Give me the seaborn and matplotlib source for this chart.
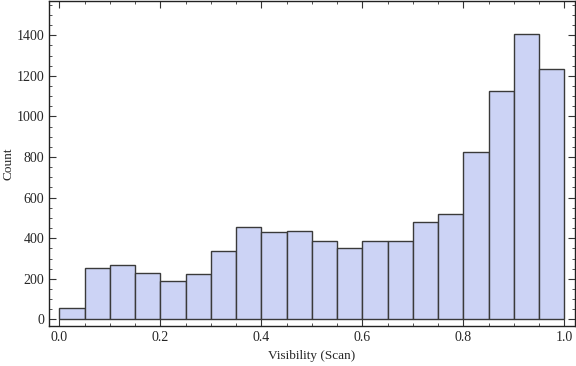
import matplotlib
matplotlib.use("Agg")
import matplotlib.pyplot as plt
from matplotlib.ticker import MultipleLocator
import numpy as np
import pandas as pd
import seaborn as sns

# histogram bins (Visibility, width 0.05) and counts
bin_edges = [0.0, 0.05, 0.1, 0.15, 0.2, 0.25, 0.3, 0.35, 0.4, 0.45, 0.5,
             0.55, 0.6, 0.65, 0.7, 0.75, 0.8, 0.85, 0.9, 0.95, 1.0]
counts = [54, 251, 266, 231, 187, 226, 339, 457, 433, 438,
          384, 354, 384, 384, 482, 521, 826, 1126, 1405, 1235]

centers = [(a + b) / 2 for a, b in zip(bin_edges[:-1], bin_edges[1:])]
df = pd.DataFrame({'visibility': centers, 'count': counts})

sns.set_style('ticks')
plt.rcParams['font.family'] = ['Liberation Serif', 'DejaVu Serif']

fig = plt.figure(figsize=(5.76, 3.66), dpi=100)
ax = fig.add_axes([0.0856, 0.109, 0.9124, 0.889])

sns.histplot(data=df, x='visibility', weights='count', bins=bin_edges,
             color='#CCD3F5', alpha=1.0, edgecolor='#3a3a3a', linewidth=1.0, ax=ax)

ax.set_xlim(-0.0198, 1.021)
ax.set_ylim(-33, 1570)
ax.set_xlabel('Visibility (Scan)', fontsize=9.5)
ax.set_ylabel('Count', fontsize=9.5)
ax.xaxis.set_label_coords(0.5, -0.074)
ax.yaxis.set_label_coords(-0.066, 0.5)

ax.xaxis.set_major_locator(MultipleLocator(0.2))
ax.xaxis.set_minor_locator(MultipleLocator(0.05))
ax.yaxis.set_major_locator(MultipleLocator(200))
ax.yaxis.set_minor_locator(MultipleLocator(50))
ax.xaxis.set_major_formatter(matplotlib.ticker.FormatStrFormatter('%.1f'))

ax.tick_params(which='both', direction='in', top=True, right=True,
               color='#333333', labelsize=10)
ax.tick_params(which='major', length=5, width=0.8)
ax.tick_params(which='minor', length=2.5, width=0.6)
for s in ax.spines.values():
    s.set_color('#222222')
    s.set_linewidth(1.0)

fig.savefig('out.png', dpi=100)
